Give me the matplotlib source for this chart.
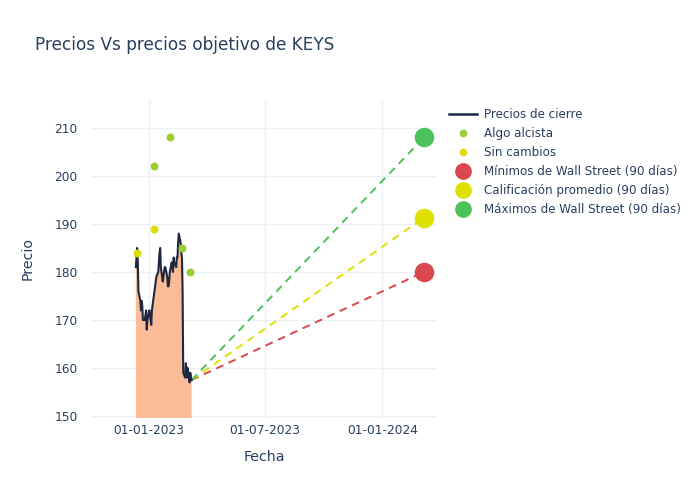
import matplotlib
matplotlib.use("Agg")
import matplotlib.pyplot as plt
import matplotlib.dates as mdates
import pandas as pd
from matplotlib.lines import Line2D

# closing prices, business days from 2022-12-12
close = [
    181, 183, 185, 182, 176, 174, 172, 174, 173, 170, 170, 171, 172, 168, 170, 172,
    171, 170, 169, 172, 175, 176, 177, 178, 179, 180, 182, 184, 185, 181, 178, 179,
    180, 181, 181, 179, 177, 177, 178, 180,
    182, 181, 180, 183, 182, 181, 183, 183, 186, 188, 186, 184, 183, 176,
    159, 158, 161, 160, 158, 160, 157, 159, 158, 157.5,
]
start_date = "2022-12-12"

bullish_dates = ["2023-01-10", "2023-02-03", "2023-02-22", "2023-03-07"]
bullish_prices = [202, 208, 185, 180]
neutral_dates = ["2022-12-13", "2023-01-10"]
neutral_prices = [184, 189]

target_date = "2024-03-06"
target_low = 180
target_avg = 191.3
target_high = 208

TEXT = "#2a3f5f"
GRID = "#ebf0f8"

dates = pd.bdate_range(start_date, periods=len(close))
last_date, last_price = dates[-1], close[-1]
tdate = pd.Timestamp(target_date)

fig = plt.figure(figsize=(7, 5), dpi=100)
ax = fig.add_axes([0.131, 0.164, 0.492, 0.636])

ax.fill_between(dates, close, 0, color="#fabb96", lw=0, zorder=1)
ax.plot(dates, close, color="#1f2640", lw=1.5, zorder=3)

ax.scatter(pd.to_datetime(bullish_dates), bullish_prices, s=22, color="#9acd32", zorder=4)
ax.scatter(pd.to_datetime(neutral_dates), neutral_prices, s=22, color="#dddd00", zorder=4)

target_colors = ["#d9474f", "#dde000", "#4cc25a"]
for val, col in zip([target_low, target_avg, target_high], target_colors):
    ax.plot([last_date, tdate], [last_price, val], ls=(0, (4, 3)), color=col, lw=1.4, zorder=2)
    ax.scatter([tdate], [val], s=170, color=col, zorder=5)

ax.set_xlim(pd.Timestamp("2022-10-04"), pd.Timestamp("2024-03-25"))
ax.set_ylim(149.6, 215.8)
ax.set_yticks(range(150, 211, 10))
ax.set_xticks(pd.to_datetime(["2023-01-01", "2023-07-01", "2024-01-01"]))
ax.xaxis.set_major_formatter(mdates.DateFormatter("%d-%m-%Y"))
ax.grid(True, color=GRID, lw=1)
ax.set_axisbelow(True)
for s in ax.spines.values():
    s.set_visible(False)
ax.tick_params(length=0, labelsize=8.8, colors=TEXT)
ax.tick_params(axis="y", pad=10)
ax.tick_params(axis="x", pad=4)
ax.set_xlabel("Fecha", fontsize=10.2, color=TEXT, labelpad=10)
ax.set_ylabel("Precio", fontsize=10.2, color=TEXT, labelpad=14)

fig.text(0.05, 0.91, "Precios Vs precios objetivo de KEYS", fontsize=12.2, color=TEXT,
         ha="left", va="center")

handles = [
    Line2D([], [], color="#1f2640", lw=1.8),
    Line2D([], [], ls="", marker="o", ms=4.5, color="#9acd32"),
    Line2D([], [], ls="", marker="o", ms=4.5, color="#dddd00"),
] + [Line2D([], [], ls="", marker="o", ms=11, color=c) for c in target_colors]
labels = ["Precios de cierre", "Algo alcista", "Sin cambios",
          "Mínimos de Wall Street (90 días)", "Calificación promedio (90 días)",
          "Máximos de Wall Street (90 días)"]
fig.legend(handles, labels, loc="upper left", bbox_to_anchor=(0.635, 0.793),
           frameon=False, fontsize=8.6, labelcolor=TEXT, handlelength=2.3,
           handletextpad=0.6, labelspacing=0.5, borderaxespad=0)

fig.savefig("out.png", dpi=100)
